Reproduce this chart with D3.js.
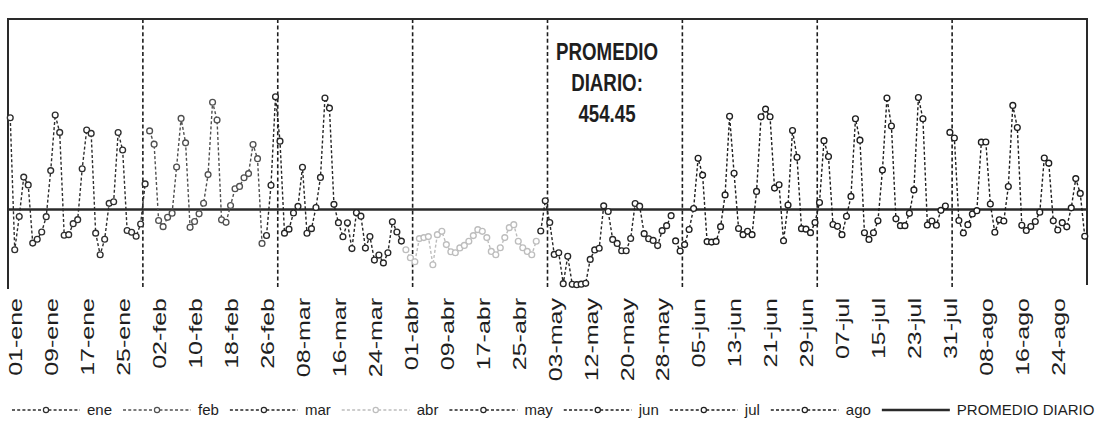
<!DOCTYPE html>
<html>
<head>
<meta charset="utf-8">
<script src="https://cdn.jsdelivr.net/npm/d3@7"></script>
<style>
  html, body { margin: 0; padding: 0; background: #fff; }
  svg { display: block; }
</style>
</head>
<body>
<svg id="chart" width="1107" height="433"></svg>
<script>
// Months shown, and the days that carry a record in each one
const meses = ["ene", "feb", "mar", "abr", "may", "jun", "jul", "ago"];
const dias = [
  d3.range(1, 32),
  d3.range(1, 27),
  d3.range(1, 32),
  d3.range(1, 31),
  [1, 2, 3, 4, 5, 6, 7, 8, 10, 11, 12, 13, 14, 15, 16, 17, 18, 19, 20, 21, 22, 23, 24, 25, 26, 27, 28, 29, 30, 31],
  d3.range(1, 31),
  d3.range(1, 32),
  d3.range(1, 32)
];

// Daily values per month
const valoresEne = [1006, 212, 412, 649, 602, 252, 275, 319, 411, 688, 1022, 918, 299, 303, 369, 393, 699, 932, 912, 312, 182, 275, 491, 501, 917, 812, 328, 317, 293, 367, 608];
const valoresFeb = [927, 847, 388, 351, 407, 432, 710, 1002, 855, 347, 382, 428, 492, 664, 1099, 992, 392, 377, 478, 579, 593, 645, 670, 845, 760, 250];
const valoresMar = [298, 600, 1132, 865, 312, 336, 433, 473, 708, 311, 339, 466, 647, 1125, 1064, 485, 375, 290, 374, 219, 434, 414, 222, 292, 150, 180, 133, 194, 380, 319, 264];
const valoresAbr = [212, 164, 140, 279, 285, 291, 122, 303, 323, 243, 200, 194, 223, 238, 263, 297, 333, 323, 285, 202, 182, 224, 285, 345, 363, 263, 224, 202, 182, 263];
const valoresMay = [325, 507, 376, 184, 194, 8, 173, 4, 2, 5, 10, 154, 211, 221, 476, 442, 274, 250, 206, 206, 280, 490, 474, 309, 278, 268, 237, 327, 357, 417];
const valoresJun = [265, 204, 243, 334, 460, 762, 661, 261, 258, 262, 351, 542, 1015, 672, 340, 303, 323, 303, 563, 1012, 1058, 1012, 583, 603, 266, 481, 929, 768, 339, 336];
const valoresJul = [315, 376, 496, 868, 773, 364, 353, 303, 413, 533, 1000, 871, 314, 274, 314, 386, 691, 1125, 956, 398, 357, 357, 431, 572, 1128, 1000, 361, 385, 360, 449, 475];
const valoresAgo = [918, 884, 388, 313, 363, 427, 447, 859, 860, 487, 317, 392, 385, 592, 1080, 947, 359, 328, 352, 382, 438, 764, 733, 386, 331, 375, 350, 464, 640, 551, 293];
const valores = [valoresEne, valoresFeb, valoresMar, valoresAbr, valoresMay, valoresJun, valoresJul, valoresAgo];

const coloresMes = ["#2e2e2e", "#505050", "#262626", "#bdbdbd", "#262626", "#1e1e1e", "#1e1e1e", "#1e1e1e"];

const promedio = 454.45;
const etiquetaPromedio = "PROMEDIO DIARIO";
const cadaEtiqueta = 8;     // one date label every 8 days
const cadaDivision = 30;    // one vertical division every 30 days

// Category list and one series per month
const categorias = [];
const series = meses.map((mes, m) => {
  const puntos = dias[m].map((d, i) => {
    const cat = String(d).padStart(2, "0") + "-" + mes;
    categorias.push(cat);
    return { cat, valor: valores[m][i] };
  });
  return { mes, color: coloresMes[m], puntos };
});

// Layout
const plot = { left: 8, right: 1087, top: 19, bottom: 285 };
const svg = d3.select("#chart");

const x = d3.scaleBand().domain(categorias).range([plot.left, plot.right]).padding(0);
const y = d3.scaleLinear().domain([0, 1600]).range([plot.bottom, plot.top]);
const cx = c => x(c) + x.bandwidth() / 2;

// Vertical dashed divisions
const divisiones = categorias.filter((c, i) => i > 0 && i % cadaDivision === 0);
svg.append("g").selectAll("line").data(divisiones).join("line")
  .attr("x1", d => x(d)).attr("x2", d => x(d))
  .attr("y1", plot.top).attr("y2", plot.bottom + 4)
  .attr("stroke", "#1e1e1e").attr("stroke-width", 1.6)
  .attr("stroke-dasharray", "4,2.6");

// Plot frame (top, left, right)
const marco = svg.append("g").attr("stroke", "#2a2a2a").attr("stroke-width", 2).attr("fill", "none");
marco.append("path").attr("d", `M${plot.left},${plot.bottom + 4}V${plot.top}H${plot.right}V${plot.bottom}`);

// Daily average line
svg.append("line")
  .attr("x1", plot.left).attr("x2", plot.right)
  .attr("y1", y(promedio)).attr("y2", y(promedio))
  .attr("stroke", "#2a2a2a").attr("stroke-width", 2.6);

// Month series: dashed line + open circle markers
const linea = d3.line().x(p => cx(p.cat)).y(p => y(p.valor));
const gSeries = svg.append("g");
series.forEach(s => {
  gSeries.append("path")
    .attr("d", linea(s.puntos))
    .attr("fill", "none")
    .attr("stroke", s.color).attr("stroke-width", 1.4)
    .attr("stroke-dasharray", "3,2.2");
});
series.forEach(s => {
  gSeries.append("g").selectAll("circle").data(s.puntos).join("circle")
    .attr("cx", p => cx(p.cat)).attr("cy", p => y(p.valor))
    .attr("r", 2.9)
    .attr("fill", "#fff")
    .attr("stroke", s.color).attr("stroke-width", 1.35);
});

// Date axis: rotated labels every 8 days
const eje = svg.append("g")
  .attr("transform", `translate(0,${plot.bottom})`)
  .call(d3.axisBottom(x)
    .tickValues(categorias.filter((c, i) => i % cadaEtiqueta === 0))
    .tickSize(0));
eje.select(".domain").remove();
eje.selectAll("text")
  .attr("x", 0).attr("y", 0).attr("dy", "0.36em")
  .attr("text-anchor", "end")
  .attr("transform", "translate(5,13) rotate(-90) scale(1.25,0.95)")
  .style("font-family", "'Liberation Sans', Arial, sans-serif")
  .style("font-size", "20px")
  .attr("fill", "#1e1e1e");

// Average annotation (condensed bold)
const nota = svg.append("g")
  .attr("transform", "translate(607,0) scale(0.78,1)")
  .attr("text-anchor", "middle")
  .style("font-family", "'Liberation Sans', Arial, sans-serif")
  .style("font-weight", "bold")
  .style("font-size", "24px")
  .attr("fill", "#1e1e1e");
["PROMEDIO", "DIARIO:", d3.format(".2f")(promedio)].forEach((t, i) => {
  nota.append("text").attr("x", 0).attr("y", 60 + i * 31).text(t);
});

// Legend
const leyenda = svg.append("g")
  .style("font-family", "'Liberation Sans', Arial, sans-serif")
  .style("font-size", "15px")
  .attr("fill", "#1e1e1e");
const legY = 410;
const muestra = 68, sepTexto = 7, sepItem = 11;
let lx = 12;
const itemsLeyenda = series.map(s => ({ nombre: s.mes, color: s.color, marcador: true }))
  .concat([{ nombre: etiquetaPromedio, color: "#2a2a2a", marcador: false }]);
itemsLeyenda.forEach(it => {
  if (it.marcador) {
    leyenda.append("line")
      .attr("x1", lx).attr("x2", lx + muestra).attr("y1", legY).attr("y2", legY)
      .attr("stroke", it.color).attr("stroke-width", 1.3).attr("stroke-dasharray", "3,2.2");
    leyenda.append("circle")
      .attr("cx", lx + muestra / 2).attr("cy", legY).attr("r", 2.6)
      .attr("fill", "#fff").attr("stroke", it.color).attr("stroke-width", 1.2);
  } else {
    leyenda.append("line")
      .attr("x1", lx).attr("x2", lx + muestra).attr("y1", legY).attr("y2", legY)
      .attr("stroke", it.color).attr("stroke-width", 2.6);
  }
  const t = leyenda.append("text")
    .attr("x", lx + muestra + sepTexto).attr("y", legY + 5)
    .text(it.nombre);
  lx += muestra + sepTexto + t.node().getComputedTextLength() + sepItem;
});
</script>
</body>
</html>
